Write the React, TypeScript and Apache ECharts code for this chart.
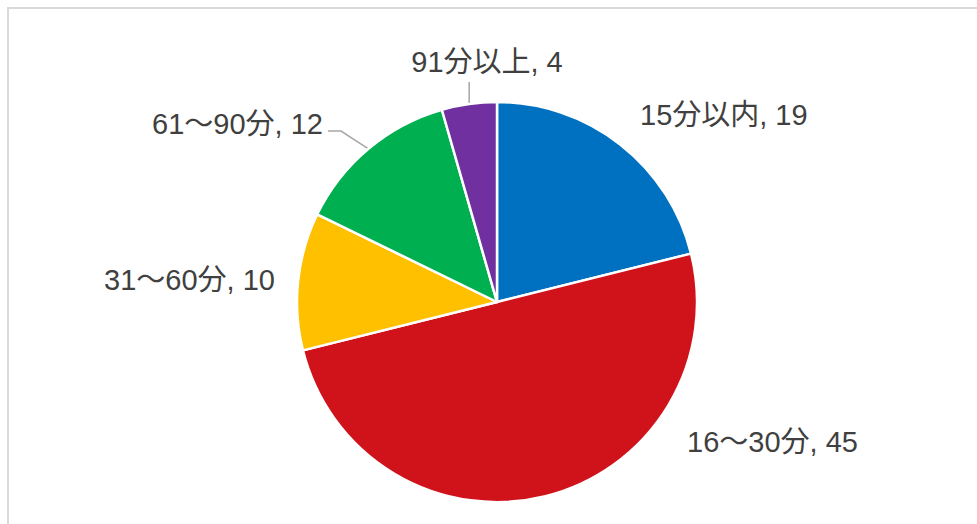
import React, { useEffect, useRef } from "react";
import * as echarts from "echarts";

const categories = ["15分以内", "16～30分", "31～60分", "61～90分", "91分以上"];
const values = [19, 45, 10, 12, 4];
const colors = ["#0070C0", "#D0121B", "#FFC000", "#00B050", "#7030A0"];

// label placement (styling): [x, y, align]
const labelPos: [number, number, string][] = [
  [640, 115, "left"],
  [687, 442, "left"],
  [275, 280, "right"],
  [323, 124, "right"],
  [487, 62, "center"],
];
const showLine = [false, false, false, true, true];

export default function App() {
  const ref = useRef<HTMLDivElement>(null);
  useEffect(() => {
    if (!ref.current) return;
    const chart = echarts.init(ref.current, undefined, { renderer: "svg" });
    const cx = 497;
    const cy = 302;
    const r = 200;
    const total = values.reduce((a, b) => a + b, 0);
    chart.setOption({
      animation: false,
      backgroundColor: "#ffffff",
      graphic: [
        {
          type: "rect",
          shape: { x: 8, y: 8, width: 1200, height: 1200 },
          style: { fill: "none", stroke: "#d9d9d9", lineWidth: 2 },
          silent: true,
        },
      ],
      series: [
        {
          type: "pie",
          center: [cx, cy],
          radius: r,
          startAngle: 90,
          clockwise: true,
          avoidLabelOverlap: false,
          itemStyle: { borderColor: "#ffffff", borderWidth: 2.5 },
          label: {
            show: true,
            position: "outside",
            formatter: "{b}, {c}",
            fontSize: 29,
            color: "#404040",
            fontFamily: "Liberation Sans, Arial, Noto Sans CJK JP, sans-serif",
          },
          labelLine: {
            show: true,
            lineStyle: { color: "#a6a6a6", width: 1.5 },
          },
          labelLayout: (params: any) => {
            const i = params.dataIndex;
            const [x, y, align] = labelPos[i];
            const res: any = { x, y, align, verticalAlign: "middle" };
            if (showLine[i]) {
              let cum = 0;
              for (let k = 0; k < i; k++) cum += values[k];
              const mid = ((cum + values[i] / 2) / total) * Math.PI * 2;
              const ex = cx + r * Math.sin(mid);
              const ey = cy - r * Math.cos(mid);
              if (align === "center") {
                res.labelLinePoints = [
                  [ex, ey],
                  [ex, (ey + y) / 2 + 6],
                  [ex, y + 20],
                ];
              } else {
                res.labelLinePoints = [
                  [ex, ey],
                  [x + 18, y + 7],
                  [x + 5, y + 7],
                ];
              }
            }
            return res;
          },
          data: categories.map((name, i) => ({
            name,
            value: values[i],
            itemStyle: { color: colors[i] },
            labelLine: { show: showLine[i] },
          })),
        },
      ],
    });
    return () => chart.dispose();
  }, []);
  return (
    <div
      ref={ref}
      style={{ position: "fixed", left: 0, top: 0, width: 977, height: 524 }}
    />
  );
}
